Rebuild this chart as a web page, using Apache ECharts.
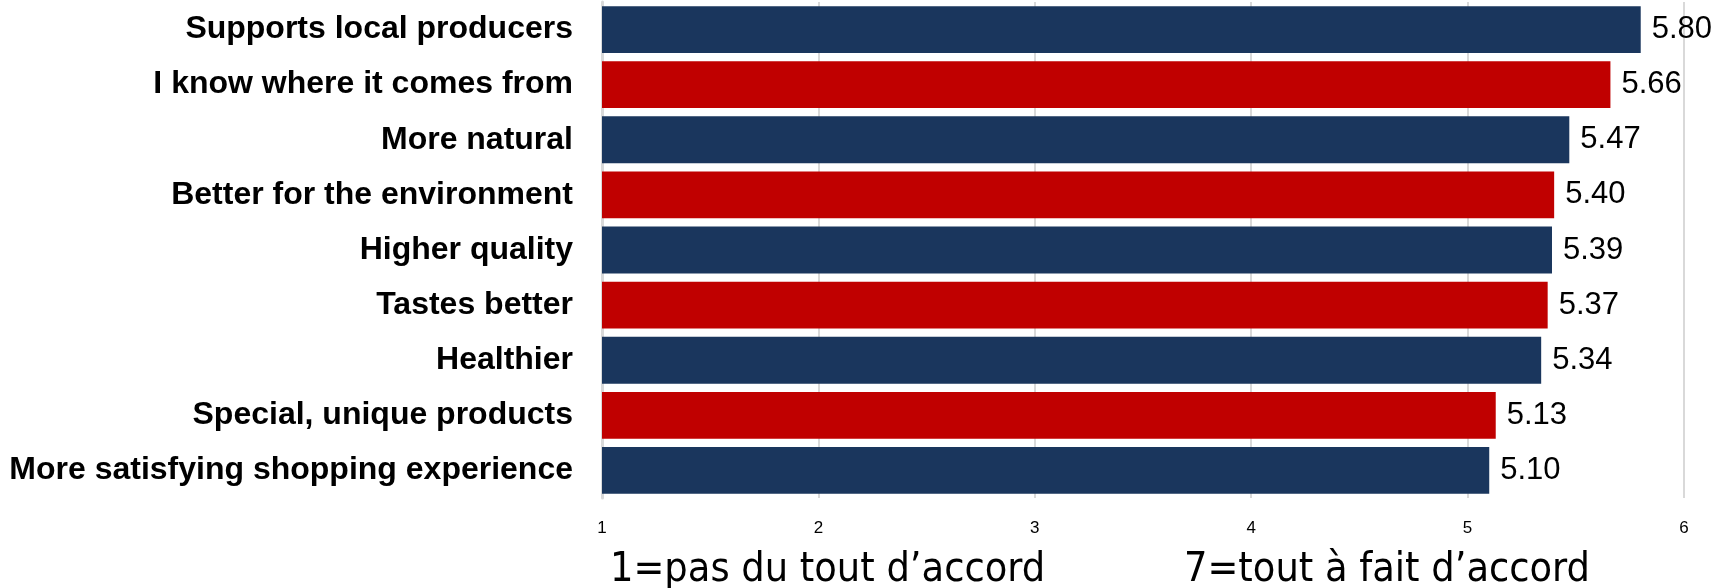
<!DOCTYPE html>
<html>
<head>
<meta charset="utf-8">
<script src="https://cdn.jsdelivr.net/npm/echarts@6/dist/echarts.min.js"></script>
<style>
html,body{margin:0;padding:0;background:#fff;}
#chart{width:1729px;height:588px;}
</style>
</head>
<body>
<div id="chart"></div>
<script>
const categories = [
  "Supports local producers",
  "I know where it comes from",
  "More natural",
  "Better for the environment",
  "Higher quality",
  "Tastes better",
  "Healthier",
  "Special, unique products",
  "More satisfying shopping experience"
];
const values = [5.80, 5.66, 5.47, 5.40, 5.39, 5.37, 5.34, 5.13, 5.10];
const xTicks = [1, 2, 3, 4, 5, 6];
const scaleNotes = ["1=pas du tout d\u2019accord", "7=tout \u00e0 fait d\u2019accord"];

const BLUE = "#1A365D";
const RED = "#C00000";

const chart = echarts.init(document.getElementById('chart'), null, {renderer: 'canvas'});
chart.setOption({
  animation: false,
  backgroundColor: '#ffffff',
  grid: {left: 602, right: 45, top: 2, bottom: 90, containLabel: false},
  xAxis: {
    type: 'value',
    min: xTicks[0],
    max: xTicks[xTicks.length - 1],
    interval: 1,
    axisLine: {show: false},
    axisTick: {show: false},
    axisLabel: {
      color: '#000',
      fontFamily: 'Liberation Sans, Arial, sans-serif',
      fontSize: 17,
      margin: 22
    },
    splitLine: {show: true, lineStyle: {color: '#d9d9d9', width: 2}}
  },
  yAxis: {
    type: 'category',
    data: categories,
    inverse: true,
    axisLine: {show: true, lineStyle: {color: '#d9d9d9', width: 3}},
    axisTick: {show: false},
    axisLabel: {
      color: '#000',
      fontFamily: 'Liberation Sans, Arial, sans-serif',
      fontWeight: 'bold',
      fontSize: 32,
      margin: 29
    }
  },
  series: [{
    type: 'bar',
    data: values.map((v, i) => ({value: v, itemStyle: {color: i % 2 === 0 ? BLUE : RED}})),
    barCategoryGap: '15%',
    label: {
      show: true,
      position: 'right',
      distance: 11,
      color: '#000',
      fontFamily: 'Liberation Sans, Arial, sans-serif',
      fontSize: 31,
      formatter: p => p.value.toFixed(2)
    }
  }],
  graphic: [
    {type: 'text', left: 610, top: 550, style: {text: scaleNotes[0], fill: '#000', font: '41px "DejaVu Sans Condensed", "DejaVu Sans", sans-serif'}},
    {type: 'text', left: 1184, top: 550, style: {text: scaleNotes[1], fill: '#000', font: '41px "DejaVu Sans Condensed", "DejaVu Sans", sans-serif'}}
  ]
});
</script>
</body>
</html>
